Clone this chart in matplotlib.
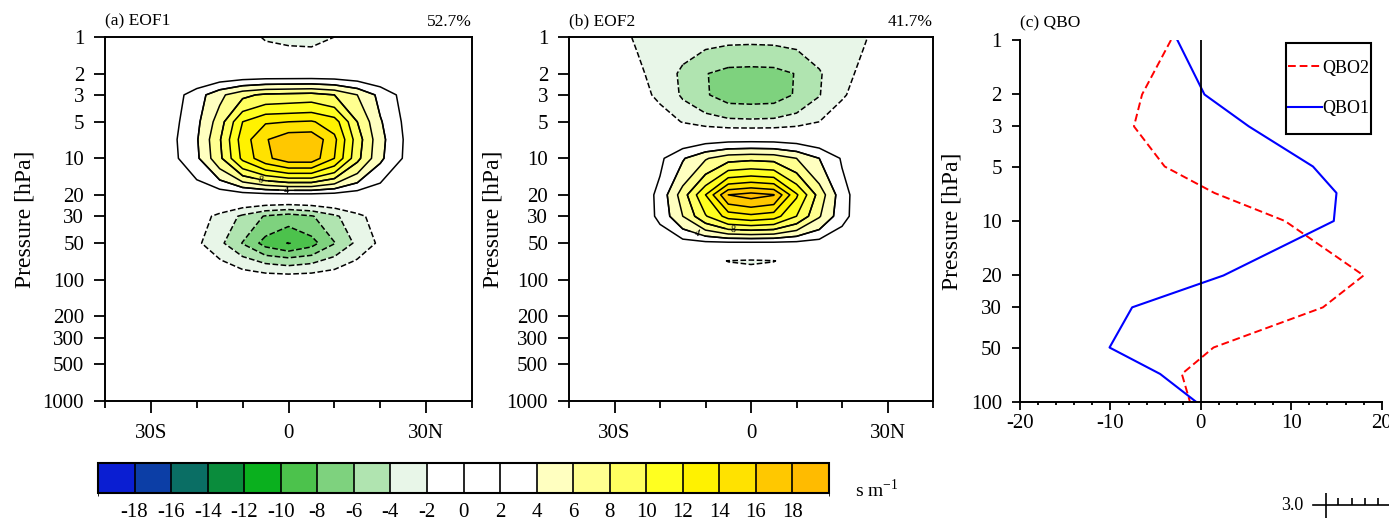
import numpy as np
import matplotlib
matplotlib.use("Agg")
import matplotlib.pyplot as plt
from matplotlib.colors import ListedColormap, BoundaryNorm
from matplotlib.cm import ScalarMappable
from matplotlib.patches import Rectangle

plt.rcParams['font.family'] = ['Liberation Serif', 'DejaVu Serif']
plt.rcParams['axes.unicode_minus'] = False

# ---- data ----
lats = [-35, -30, -25, -20, -15, -10, -5, 0, 5, 10, 15, 20, 25, 30, 35]
plevs = [1, 2, 3, 5, 7, 10, 20, 30, 50, 70, 100]

# EOF1 zonal wind pattern (m/s), rows = plevs, cols = lats
eof1 = [
    [0, 0, 0, -0.1, -0.4, -1.2, -2.2, -2.5, -2.6, -2.0, -1.0, -0.3, 0, 0, 0],
    [0, 0, 0, 0.05, 0.1, 0.2, 0.3, 0.3, 0.3, 0.3, 0.2, 0.1, 0, 0, 0],
    [0, 0.3, 1.2, 3.0, 5.5, 7.5, 8.4, 8.6, 8.8, 8.0, 6.0, 3.4, 1.4, 0.4, 0],
    [0, 0.4, 1.5, 3.5, 7.0, 12.0, 13.8, 14.0, 14.2, 13.0, 8.0, 4.2, 1.8, 0.5, 0],
    [0, 0.5, 1.7, 3.8, 7.8, 13.0, 15.8, 17.5, 17.6, 14.5, 9.0, 4.6, 2.0, 0.6, 0],
    [0, 0.5, 1.6, 3.6, 7.5, 12.5, 15.5, 17.2, 17.2, 14.0, 8.6, 4.4, 1.9, 0.6, 0],
    [0, 0, 0.2, 0.4, 0.6, 1.0, 1.3, 1.4, 1.4, 1.2, 0.8, 0.4, 0.2, 0, 0],
    [0, -0.1, -0.4, -1.1, -2.5, -4.4, -6.2, -7.0, -6.2, -4.4, -2.5, -1.1, -0.4, -0.1, 0],
    [0, -0.2, -0.6, -1.6, -3.5, -6.1, -8.8, -10.1, -8.8, -6.1, -3.5, -1.6, -0.6, -0.2, 0],
    [0, -0.1, -0.3, -0.8, -1.8, -3.2, -4.5, -5.0, -4.5, -3.2, -1.8, -0.8, -0.3, -0.1, 0],
    [0, 0, 0, 0, -0.1, -0.3, -0.4, -0.5, -0.4, -0.3, -0.1, 0, 0, 0, 0],
]

# EOF2 zonal wind pattern (m/s)
eof2 = [
    [-0.8, -1.4, -2.2, -2.7, -3.1, -3.3, -3.45, -3.5, -3.45, -3.3, -3.0, -2.6, -2.1, -1.3, -0.7],
    [-0.3, -0.8, -1.6, -2.8, -4.4, -5.9, -6.7, -6.8, -6.7, -5.9, -4.2, -2.6, -1.5, -0.7, -0.3],
    [-0.2, -0.6, -1.3, -2.4, -4.3, -5.8, -6.9, -7.0, -6.9, -5.8, -4.1, -2.2, -1.2, -0.5, -0.2],
    [0, -0.1, -0.4, -1.0, -2.1, -2.9, -3.45, -3.56, -3.45, -2.9, -2.0, -0.9, -0.4, -0.1, 0],
    [0, 0, 0, 0.2, 0.6, 1.1, 1.35, 1.4, 1.35, 1.1, 0.6, 0.2, 0, 0, 0],
    [0, 0, 0.3, 1.6, 3.8, 5.8, 7.2, 7.5, 7.3, 6.0, 4.0, 1.8, 0.4, 0, 0],
    [0, 0, 0.4, 2.6, 7.0, 12.0, 18.0, 18.8, 18.1, 12.3, 7.2, 2.8, 0.5, 0, 0],
    [0, 0, 0.4, 2.5, 6.0, 9.8, 12.8, 13.5, 12.9, 10.0, 6.2, 2.7, 0.5, 0, 0],
    [0, 0, 0.1, 0.5, 1.1, 1.4, 1.5, 1.5, 1.5, 1.4, 1.1, 0.5, 0.1, 0, 0],
    [0, 0, 0, -0.3, -0.8, -1.4, -2.05, -2.2, -2.05, -1.4, -0.8, -0.3, 0, 0, 0],
    [0, 0, 0, -0.1, -0.3, -0.6, -0.9, -1.0, -0.9, -0.6, -0.3, -0.1, 0, 0, 0],
]

eof_titles = ['(a) EOF1', '(b) EOF2']
eof_pct = ['52.7%', '41.7%']

qbo_plev = [1, 2, 3, 5, 7, 10, 20, 30, 50, 70, 100]
qbo1 = [-2.6, 0.4, 5.3, 12.4, 15.0, 14.7, 2.5, -7.6, -10.1, -4.5, -0.5]
qbo2 = [-3.3, -6.5, -7.4, -4.0, 1.5, 9.3, 18.0, 13.5, 1.4, -2.1, -1.2]

p_ticks = [1, 2, 3, 5, 10, 20, 30, 50, 100, 200, 300, 500, 1000]
qbo_p_ticks = [1, 2, 3, 5, 10, 20, 30, 50, 100]
lat_ticks = [-30, 0, 30]
lat_labels = ['30S', '0', '30N']

cb_bounds = list(range(-20, 22, 2))
cb_colors = ['#0a1ed2', '#0c3ea6', '#0a6e64', '#0a8c3c', '#0ab01e',
             '#4cc24c', '#7ed27e', '#b0e4b0', '#e8f6e8', '#ffffff',
             '#ffffff', '#ffffff', '#ffffc0', '#ffff90', '#ffff60',
             '#ffff20', '#fff200', '#ffe200', '#ffc800', '#ffbb00']

# ---- figure ----
W, H = 1389, 520
fig = plt.figure(figsize=(W / 100, H / 100), dpi=100)
TICK_FS = 15

cmap = ListedColormap(cb_colors)
norm = BoundaryNorm(cb_bounds, cmap.N)
line_levels = [l for l in cb_bounds[1:-1] if l != 0]
line_styles = ['dashed' if l < 0 else 'solid' for l in line_levels]

label_pos = [[(-5.7, 13), (-0.4, 18.6)], [(-11.4, 37.6), (-4, 36.7)]]
eof_axes = [[105, 37, 367, 364], [569, 37, 364, 364]]

for i, field in enumerate([eof1, eof2]):
    l, t, w, h = eof_axes[i]
    ax = fig.add_axes([l / W, (H - t - h) / H, w / W, h / H])
    data = np.array(field)
    ax.contourf(lats, plevs, data, levels=cb_bounds, cmap=cmap, norm=norm)
    ax.contour(lats, plevs, data, levels=line_levels, colors='black',
               linewidths=1.1, linestyles=line_styles)
    ax.set_yscale('log')
    ax.set_ylim(1000, 1)
    ax.set_xlim(-40, 40)
    ax.set_yticks(p_ticks)
    ax.set_yticklabels([str(p) for p in p_ticks])
    ax.yaxis.set_minor_locator(matplotlib.ticker.NullLocator())
    ax.set_xticks(lat_ticks)
    ax.set_xticklabels(lat_labels)
    ax.set_xticks([-40, -20, -10, 10, 20, 40], minor=True)
    ax.tick_params(axis='y', which='major', length=8, width=1.3, pad=7,
                   labelsize=TICK_FS, direction='out')
    ax.tick_params(axis='x', which='major', length=8.6, width=1.3, pad=8,
                   labelsize=TICK_FS, direction='out')
    ax.tick_params(axis='x', which='minor', length=5, width=1.3,
                   direction='out')
    for s in ax.spines.values():
        s.set_linewidth(1.4)
    ax.set_ylabel('Pressure [hPa]', fontsize=17)
    ax.yaxis.set_label_coords(-0.19 if i == 0 else -0.18, 0.5)
    ax.set_title(eof_titles[i], loc='left', fontsize=12.5, pad=8)
    ax.set_title(eof_pct[i], loc='right', fontsize=12.5, pad=8)
    # labelled contours 4 and 8 (drawn again so clabel only sees these two)
    cs_lab = ax.contour(lats, plevs, data, levels=[4, 8], colors='black',
                        linewidths=1.1)
    ax.clabel(cs_lab, manual=label_pos[i], fontsize=7, fmt='%d', inline=True)

# ---- QBO profiles ----
axq = fig.add_axes([1020 / W, (H - 402) / H, 361.7 / W, 362 / H])
axq.plot(qbo2, qbo_plev, color='red', ls=(0, (4, 2)), lw=1.4, label='QBO2')
axq.plot(qbo1, qbo_plev, color='blue', lw=1.5, label='QBO1')
axq.axvline(0, color='black', lw=1.3)
axq.set_yscale('log')
axq.set_ylim(100, 1)
axq.set_xlim(-20, 20)
axq.set_yticks(qbo_p_ticks)
axq.set_yticklabels([str(p) for p in qbo_p_ticks])
axq.yaxis.set_minor_locator(matplotlib.ticker.NullLocator())
axq.set_xticks([-20, -10, 0, 10, 20])
axq.set_xticks(np.arange(-20, 21, 2), minor=True)
axq.spines['top'].set_visible(False)
axq.spines['right'].set_visible(False)
axq.spines['left'].set_linewidth(1.4)
axq.spines['bottom'].set_linewidth(1.4)
axq.tick_params(axis='y', which='major', length=6, width=1.3, pad=7,
                labelsize=TICK_FS)
axq.tick_params(axis='x', which='major', length=5.5, width=1.3, pad=3,
                labelsize=TICK_FS)
axq.tick_params(axis='x', which='minor', length=2.5, width=1.3)
axq.set_ylabel('Pressure [hPa]', fontsize=17)
axq.yaxis.set_label_coords(-0.16, 0.5)
axq.set_title('(c) QBO', loc='left', fontsize=12.5, pad=9)

leg = axq.legend(loc='upper right', bbox_to_anchor=(1371 / W, (H - 58) / H),
                 bbox_transform=fig.transFigure, frameon=False, fontsize=13,
                 handlelength=1.9, handletextpad=0.0, labelspacing=1.3,
                 borderpad=0.1, borderaxespad=0)
fig.canvas.draw()
bb = leg.get_window_extent()
fig.add_artist(Rectangle((bb.x0 / W, (bb.y0 - 15) / H), bb.width / W,
                         (bb.height + 30) / H, transform=fig.transFigure,
                         fill=False, ec='black', lw=1.5))

# ---- colorbar ----
cax = fig.add_axes([98 / W, (H - 493) / H, 731 / W, 30 / H])
cb = fig.colorbar(ScalarMappable(norm=norm, cmap=cmap), cax=cax,
                  orientation='horizontal', ticks=cb_bounds[1:-1],
                  drawedges=True)
cb.outline.set_linewidth(1.5)
cb.dividers.set_linewidth(1.2)
cb.ax.tick_params(length=0, pad=7, labelsize=TICK_FS)
fig.text(855 / W, (H - 490) / H, r's m$^{\mathregular{-1}}$', fontsize=14,
         ha='left', va='center')

# ---- reference vector scale (bottom right) ----
fig.text(1303 / W, (H - 505) / H, '3.0', fontsize=13, ha='right', va='center')
axr = fig.add_axes([1313 / W, (H - 505) / H, 76 / W, 0.001])
axr.set_xlim(0, 76)
for s in ['top', 'left', 'right']:
    axr.spines[s].set_visible(False)
axr.spines['bottom'].set_linewidth(1.2)
axr.set_yticks([])
axr.set_xticks([13])
axr.set_xticks([25, 39, 52, 65], minor=True)
axr.tick_params(axis='x', which='major', direction='inout', length=18,
                width=1.2, labelbottom=False)
axr.tick_params(axis='x', which='minor', direction='in', length=5,
                width=1.2)

fig.savefig('out.png', dpi=100)
